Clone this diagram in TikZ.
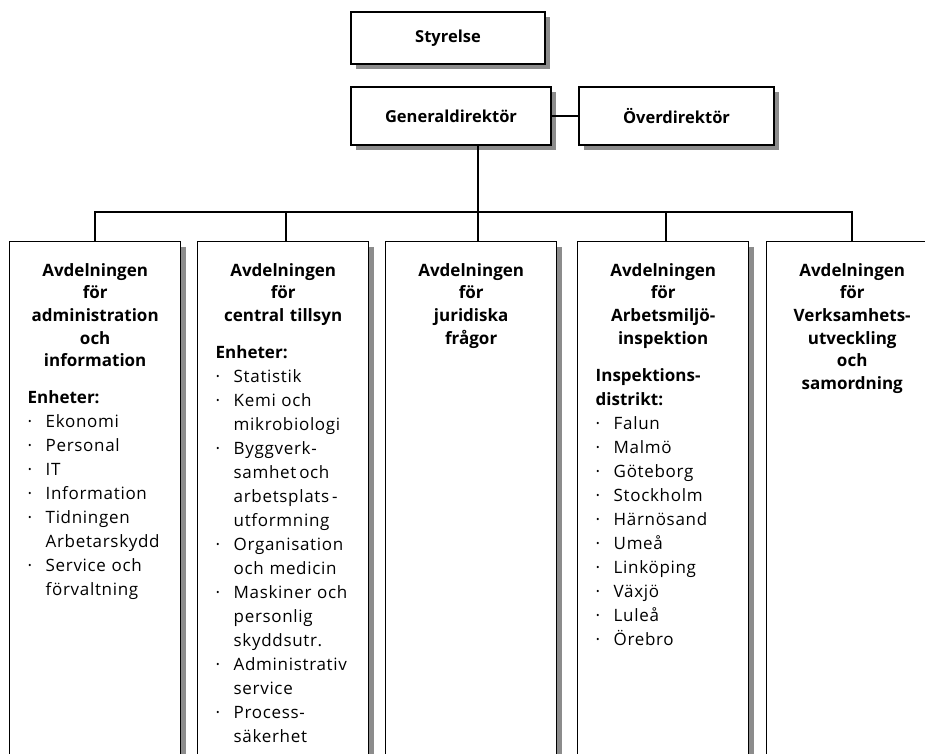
\documentclass[tikz,border=0pt]{standalone}
\usepackage{fontspec}
\setmainfont{Open Sans}[UprightFeatures={LetterSpace=4}]
\usetikzlibrary{positioning,shadows}

\newcommand{\punkt}{\par\noindent\hangindent=18pt\hangafter=1\makebox[18pt][l]{·}}
\newcommand{\rubrik}[1]{{\fontsize{17}{22.7}\selectfont\centering\bfseries #1\par}%
  \fontsize{17}{24}\selectfont\raggedright\vspace{13pt}}

\tikzset{
  skugga/.style={drop shadow={shadow xshift=5pt,shadow yshift=-5pt,fill=black!45,opacity=1}},
  ruta/.style={draw,line width=1.4pt,fill=white,skugga,inner sep=0pt,
    font=\fontsize{16.5}{20}\selectfont\bfseries},
  avd/.style={draw,line width=1.4pt,fill=white,skugga,anchor=north west,
    minimum width=171pt,minimum height=600pt},
  avdtext/.style={text width=135pt,inner sep=0pt,anchor=north,
    font=\fontsize{17}{24}\selectfont},
  linje/.style={line width=2pt}
}

\begin{document}
\begin{tikzpicture}[x=1pt,y=1pt,node distance=22pt]
\useasboundingbox (0,0) rectangle (925,-753);
\clip (0,0) rectangle (925,-753);

% ledning
\node[ruta,minimum width=194pt,minimum height=52pt] (sty) at (448,-38) {Styrelse};
\node[ruta,minimum width=200pt,minimum height=58pt] (gd) at (451,-116) {Generaldirektör};
\node[ruta,minimum width=195pt,minimum height=58pt] (od) at (676.5,-116) {Överdirektör};

% avdelningar
\foreach \i/\x in {1/9,2/197,3/385,4/577,5/766}
  \node[avd] (d\i) at (\x,-241) {};

\node[avdtext,below=of d1.north] (t1) {%
  \rubrik{Avdelningen\\för\\administration\\och\\information}
  {\bfseries Enheter:\par}
  \punkt Ekonomi
  \punkt Personal
  \punkt IT
  \punkt Information
  \punkt Tidningen\newline Arbetarskydd
  \punkt Service och\newline förvaltning\par};

\node[avdtext,below=of d2.north] (t2) {%
  \rubrik{Avdelningen\\för\\central tillsyn}
  {\bfseries Enheter:\par}
  \punkt Statistik
  \punkt Kemi och\newline mikrobiologi
  \punkt Byggverk-\newline samhet\,och\newline arbetsplats\,-\newline utformning
  \punkt Organisation\newline och medicin
  \punkt Maskiner och\newline personlig\newline skyddsutr.
  \punkt Administrativ\newline service
  \punkt Process-\newline säkerhet\par};

\node[avdtext,below=of d3.north] (t3) {%
  \rubrik{Avdelningen\\för\\juridiska\\frågor}};

\node[avdtext,below=of d4.north] (t4) {%
  \rubrik{Avdelningen\\för\\Arbetsmiljö-\\inspektion}
  {\bfseries Inspektions-\newline distrikt:\par}
  \punkt Falun
  \punkt Malmö
  \punkt Göteborg
  \punkt Stockholm
  \punkt Härnösand
  \punkt Umeå
  \punkt Linköping
  \punkt Växjö
  \punkt Luleå
  \punkt Örebro\par};

\node[avdtext,below=of d5.north] (t5) {%
  \rubrik{Avdelningen\\för\\Verksamhets-\\utveckling\\och\\samordning}};

% linjer
\coordinate (buss) at (478,-212);
\draw[linje] (gd) -- (od);
\draw[linje] (gd.south -| buss) -- (d3.north -| buss);
\draw[linje] (d1.north) |- (d5.north |- buss) -- (d5.north);
\foreach \i in {2,4}
  \draw[linje] ([xshift=3pt]d\i.north) -- ([xshift=3pt]d\i.north |- buss);
\end{tikzpicture}
\end{document}
